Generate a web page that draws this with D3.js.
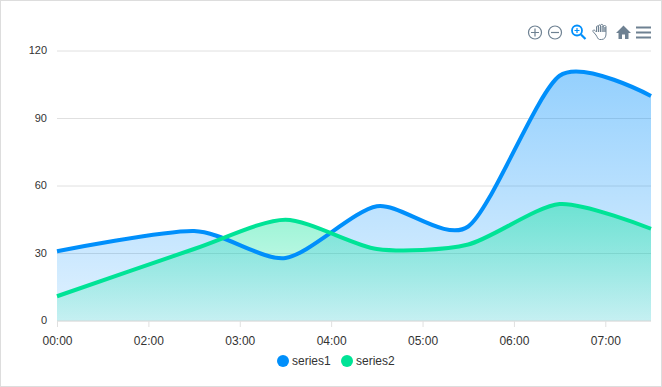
<!DOCTYPE html>
<html lang="en">
  <head>
    <meta charset="utf-8" />
    <title>Area chart</title>
    <script src="https://cdnjs.cloudflare.com/ajax/libs/d3/7.8.5/d3.min.js"></script>
    <style type="text/css">
      html, body { margin: 0; padding: 0; background: #fff; }
      svg { display: block; }
      text { font-family: "Liberation Sans", Helvetica, Arial, sans-serif; fill: #333; }
    </style>
  </head>
  <body>
    <div id="chart"></div>
    <script>
      // hours since the first sample
      const hours = [0, 1.5, 2.5, 3.5, 4.5, 5.5, 6.5];
      const series1 = [31, 40, 28, 51, 42, 109, 100];
      const series2 = [11, 32, 45, 32, 34, 52, 41];
      const seriesNames = ['series1', 'series2'];
      const seriesColors = ['#008FFB', '#00E396'];
      const xTickHours = [0, 1, 2, 3, 4, 5, 6];
      const xTickLabels = ['00:00', '02:00', '03:00', '04:00', '05:00', '06:00', '07:00'];
      const yTicks = [0, 30, 60, 90, 120];

      const width = 662;
      const height = 387;

      const svg = d3.select('#chart').append('svg')
        .attr('width', width)
        .attr('height', height);

      // outer frame
      svg.append('rect')
        .attr('x', 0.5).attr('y', 0.5)
        .attr('width', width - 1).attr('height', height - 1)
        .attr('fill', '#fff')
        .attr('stroke', '#ddd');

      const x = d3.scaleLinear().domain([0, 6.5]).range([57, 651]);
      const y = d3.scaleLinear().domain([0, 120]).range([321, 51]);

      // grid
      svg.append('g').selectAll('line')
        .data(yTicks)
        .join('line')
        .attr('x1', x(0)).attr('x2', x(6.5))
        .attr('y1', d => y(d)).attr('y2', d => y(d))
        .attr('stroke', '#e0e0e0');

      // y labels
      svg.append('g').selectAll('text')
        .data(yTicks)
        .join('text')
        .attr('x', 47)
        .attr('y', d => y(d) + 3)
        .attr('text-anchor', 'end')
        .attr('font-size', 11)
        .text(d => d);

      // gradients
      const defs = svg.append('defs');
      seriesColors.forEach((c, i) => {
        const g = defs.append('linearGradient')
          .attr('id', 'grad' + i)
          .attr('x1', 0).attr('y1', 0).attr('x2', 0).attr('y2', 1);
        g.append('stop').attr('offset', '0%').attr('stop-color', c).attr('stop-opacity', 0.42);
        g.append('stop').attr('offset', '100%').attr('stop-color', c).attr('stop-opacity', 0.12);
      });

      const curve = d3.curveCardinal.tension(0.25);

      const area = d3.area()
        .curve(curve)
        .x((d, i) => x(hours[i]))
        .y0(y(0))
        .y1(d => y(d));

      const line = d3.line()
        .curve(curve)
        .x((d, i) => x(hours[i]))
        .y(d => y(d));

      [series1, series2].forEach((s, i) => {
        svg.append('path')
          .datum(s)
          .attr('fill', `url(#grad${i})`)
          .attr('d', area);
      });
      [series1, series2].forEach((s, i) => {
        svg.append('path')
          .datum(s)
          .attr('fill', 'none')
          .attr('stroke', seriesColors[i])
          .attr('stroke-width', 4)
          .attr('d', line);
      });

      // x axis
      const xAxis = d3.axisBottom(x)
        .tickValues(xTickHours)
        .tickSize(6)
        .tickPadding(9)
        .tickFormat((d, i) => xTickLabels[i]);

      const axisG = svg.append('g')
        .attr('transform', `translate(0, ${y(0)})`)
        .call(xAxis);
      axisG.select('.domain').attr('stroke', '#e0e0e0').attr('d', `M${x(0)},0H${x(6.5)}`);
      axisG.selectAll('.tick line').attr('stroke', '#e0e0e0');
      axisG.selectAll('.tick text')
        .attr('font-size', 12)
        .attr('font-family', '"Liberation Sans", Helvetica, Arial, sans-serif')
        .attr('fill', '#333');

      // legend
      const legendX = [283, 347];
      const legend = svg.append('g').selectAll('g')
        .data(seriesNames)
        .join('g')
        .attr('transform', (d, i) => `translate(${legendX[i]}, 361)`);
      legend.append('circle')
        .attr('r', 6)
        .attr('fill', (d, i) => seriesColors[i]);
      legend.append('text')
        .attr('x', 9)
        .attr('y', 4)
        .attr('font-size', 12)
        .text(d => d);

      // toolbar icons
      const toolbar = svg.append('g')
        .attr('fill', 'none')
        .attr('stroke', '#6E8192')
        .attr('stroke-width', 1.2);
      toolbar.append('circle').attr('cx', 535).attr('cy', 32.5).attr('r', 6.5);
      toolbar.append('path').attr('d', 'M531,32.5H539M535,28.5V36.5');
      toolbar.append('circle').attr('cx', 555).attr('cy', 32.5).attr('r', 6.5);
      toolbar.append('path').attr('d', 'M551,32.5H559');

      // active zoom icon
      const zoomIcon = svg.append('g')
        .attr('fill', 'none')
        .attr('stroke', '#008FFB');
      zoomIcon.append('circle').attr('cx', 577).attr('cy', 30.5).attr('r', 5).attr('stroke-width', 1.8);
      zoomIcon.append('path').attr('d', 'M581,34.5L585.5,39').attr('stroke-width', 2.2);
      zoomIcon.append('path').attr('d', 'M574.5,30.5H579.5M577,28V33').attr('stroke-width', 1.2);

      // pan hand
      svg.append('path')
        .attr('fill', '#fff')
        .attr('stroke', '#6E8192')
        .attr('stroke-width', 1)
        .attr('d', 'M596,35L593,31.5C592.5,30 594,29.5 595,30.5L596.5,32V27C596.5,25.5 598.5,25.5 598.5,27V26C598.5,24.5 600.5,24.5 600.5,26V25.5C600.5,24 603,24 603,25.5V26.5C603,25.2 606,25.2 606,26.5V34C606,37 604.5,39.5 601.5,39.5H599.5C598,39.5 597,36.5 596,35Z');
      svg.append('path')
        .attr('stroke', '#6E8192')
        .attr('stroke-width', 1.4)
        .attr('d', 'M598.5,27V32M600.7,26V32M603,26V32M605,27V32');

      // home
      svg.append('path')
        .attr('fill', '#6E8192')
        .attr('d', 'M616,33L623.5,25.5L631,33H628.5V39H625V34.5H622V39H618.5V33Z');

      // menu
      svg.append('path')
        .attr('stroke', '#6E8192')
        .attr('stroke-width', 2)
        .attr('d', 'M636,27.5H651M636,32.5H651M636,37.5H651');
    </script>
  </body>
</html>
